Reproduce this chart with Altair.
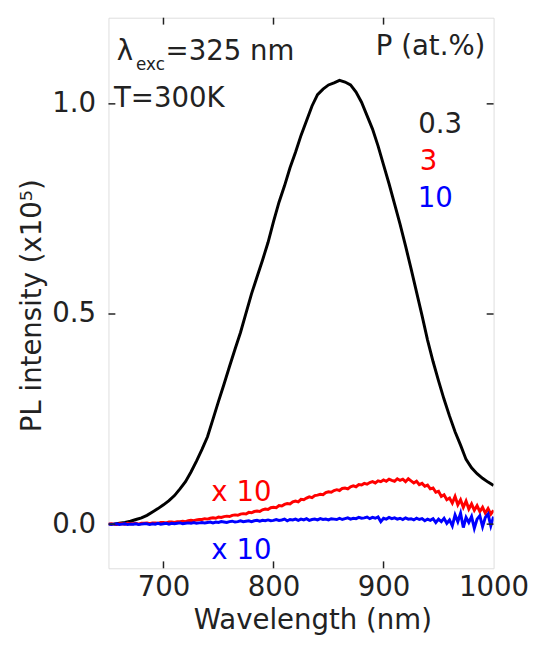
import altair as alt
import pandas as pd

# ---------------- data ----------------
# P = 0.3 at.% (5 nm steps from 655 nm)
wl_black = list(range(655, 1001, 5))
pl_black = [0.000, 0.002, 0.004, 0.007, 0.011, 0.015, 0.021, 0.029, 0.037, 0.046,
            0.056, 0.068, 0.084, 0.101, 0.124, 0.150, 0.178, 0.208, 0.250, 0.292,
            0.333, 0.375, 0.416, 0.456, 0.502, 0.548, 0.588, 0.628, 0.670, 0.720,
            0.766, 0.805, 0.848, 0.885, 0.925, 0.960, 0.995, 1.022, 1.035, 1.045,
            1.050, 1.056, 1.052, 1.045, 1.028, 1.004, 0.972, 0.940, 0.900, 0.855,
            0.810, 0.762, 0.714, 0.662, 0.608, 0.552, 0.496, 0.438, 0.387, 0.341,
            0.297, 0.257, 0.220, 0.188, 0.154, 0.134, 0.120, 0.109, 0.100, 0.092]

# P = 3 at.% (x10), 2.5 nm steps from 650 nm (one row = 25 nm)
pl_red = [0.000, 0.001, 0.000, -0.001, 0.001, 0.001, 0.000, 0.002, 0.001, 0.001,
          0.002, 0.000, 0.002, 0.002, 0.003, 0.001, 0.003, 0.003, 0.002, 0.004,
          0.004, 0.003, 0.005, 0.005, 0.004, 0.006, 0.006, 0.007, 0.006, 0.008,
          0.009, 0.008, 0.010, 0.011, 0.011, 0.013, 0.012, 0.014, 0.015, 0.014,
          0.017, 0.016, 0.018, 0.019, 0.018, 0.021, 0.022, 0.021, 0.024, 0.025,
          0.024, 0.028, 0.027, 0.030, 0.031, 0.030, 0.034, 0.036, 0.035, 0.039,
          0.040, 0.039, 0.044, 0.043, 0.047, 0.049, 0.048, 0.053, 0.055, 0.053,
          0.059, 0.058, 0.062, 0.065, 0.063, 0.068, 0.069, 0.071, 0.070, 0.075,
          0.077, 0.076, 0.080, 0.082, 0.080, 0.085, 0.086, 0.084, 0.089, 0.091,
          0.089, 0.094, 0.093, 0.097, 0.095, 0.099, 0.101, 0.098, 0.103, 0.101,
          0.105, 0.102, 0.107, 0.104, 0.102, 0.108, 0.104, 0.107, 0.101, 0.108,
          0.103, 0.098, 0.102, 0.094, 0.097, 0.090, 0.093, 0.084, 0.086, 0.076,
          0.078, 0.066, 0.070, 0.058, 0.062, 0.050, 0.066, 0.046, 0.058, 0.040,
          0.055, 0.036, 0.048, 0.033, 0.044, 0.030, 0.040, 0.026, 0.037, 0.024,
          0.033]

# P = 10 at.% (x10), 2.5 nm steps from 650 nm (one row = 25 nm)
pl_blue = [0.000, -0.001, 0.000, 0.001, -0.001, 0.000, 0.001, -0.001, 0.000, 0.000,
           0.001, -0.001, 0.000, 0.001, 0.001, -0.001, 0.001, 0.000, 0.002, 0.000,
           0.001, 0.002, 0.000, 0.002, 0.001, 0.002, 0.003, 0.001, 0.002, 0.003,
           0.002, 0.004, 0.002, 0.003, 0.004, 0.003, 0.004, 0.005, 0.003, 0.005,
           0.004, 0.006, 0.005, 0.004, 0.006, 0.007, 0.005, 0.006, 0.008, 0.006,
           0.007, 0.008, 0.006, 0.008, 0.009, 0.007, 0.009, 0.008, 0.010, 0.008,
           0.009, 0.011, 0.009, 0.010, 0.012, 0.008, 0.011, 0.010, 0.012, 0.009,
           0.012, 0.010, 0.013, 0.009, 0.011, 0.012, 0.010, 0.013, 0.011, 0.012,
           0.010, 0.013, 0.012, 0.011, 0.014, 0.011, 0.013, 0.015, 0.012, 0.014,
           0.013, 0.016, 0.014, 0.015, 0.017, 0.013, 0.016, 0.014, 0.017, 0.006,
           0.014, 0.012, 0.016, 0.013, 0.015, 0.012, 0.014, 0.011, 0.015, 0.012,
           0.013, 0.010, 0.014, 0.011, 0.013, 0.008, 0.012, 0.009, 0.013, 0.004,
           0.012, 0.006, 0.014, 0.002, 0.010, -0.004, 0.022, 0.006, 0.026, -0.008,
           0.016, 0.004, 0.018, -0.010, 0.012, 0.020, -0.006, 0.016, 0.024, -0.004,
           0.018]

series_names = ["0.3", "3", "10"]
series_colors = ["#000000", "#ff0000", "#0000ff"]

x_ticks = [700, 800, 900]
y_ticks = [0.0, 0.5, 1.0]

# ---------------- layout ----------------
W, H = 391, 559
X_DOM = [650, 1000]
Y_DOM = [-0.105, 1.205]
FONT = "DejaVu Sans"
FS = 28
TXT = "#222222"

rows = []
for w, v in zip(wl_black, pl_black):
    rows.append({"wl": w, "pl": v, "P": "0.3"})
for i, v in enumerate(pl_red):
    rows.append({"wl": 650 + 2.5 * i, "pl": v, "P": "3"})
for i, v in enumerate(pl_blue):
    rows.append({"wl": 650 + 2.5 * i, "pl": v, "P": "10"})
df = pd.DataFrame(rows)

xs = alt.Scale(domain=X_DOM, nice=False, zero=False)
ys = alt.Scale(domain=Y_DOM, nice=False, zero=False)

lines = alt.Chart(df).mark_line(clip=True).encode(
    x=alt.X("wl:Q", scale=xs,
            axis=alt.Axis(values=[700, 800, 900, 1000], format="d", ticks=False, domain=False,
                          grid=False, labelFontSize=FS, labelFont=FONT, labelColor=TXT,
                          labelPadding=6, labelFlush=False,
                          title="Wavelength (nm)", titleFontSize=FS, titleFont=FONT,
                          titleFontWeight="normal", titleColor=TXT,
                          titleX=207, titleY=53, titleBaseline="middle", titleAlign="center")),
    y=alt.Y("pl:Q", scale=ys,
            axis=alt.Axis(values=y_ticks, format=".1f", ticks=False, domain=False, grid=False,
                          labelFontSize=FS, labelFont=FONT, labelColor=TXT, labelPadding=13,
                          title="PL intensity (x10⁵)", titleFontSize=FS, titleFont=FONT,
                          titleFontWeight="normal", titleColor=TXT, titleAngle=270,
                          titleX=-77, titleY=292, titleBaseline="middle", titleAlign="center")),
    color=alt.Color("P:N", scale=alt.Scale(domain=series_names, range=series_colors), legend=None),
    strokeWidth=alt.StrokeWidth("P:N", scale=alt.Scale(domain=series_names, range=[3, 3, 3]),
                                legend=None),
    detail="P:N",
    order=alt.Order("wl:Q"),
)

# inward ticks
xt = pd.DataFrame({"t": x_ticks})
yt = pd.DataFrame({"t": y_ticks})
TL = 7
tick_style = dict(color="#222222", strokeWidth=1.5)
xt_top = alt.Chart(xt).mark_rule(**tick_style).encode(
    x=alt.X("t:Q", scale=xs), y=alt.value(0), y2=alt.value(TL))
xt_bot = alt.Chart(xt).mark_rule(**tick_style).encode(
    x=alt.X("t:Q", scale=xs), y=alt.value(H - TL), y2=alt.value(H))
yt_left = alt.Chart(yt).mark_rule(**tick_style).encode(
    y=alt.Y("t:Q", scale=ys), x=alt.value(0), x2=alt.value(TL))
yt_right = alt.Chart(yt).mark_rule(**tick_style).encode(
    y=alt.Y("t:Q", scale=ys), x=alt.value(W - TL), x2=alt.value(W))

# annotations
ann = pd.DataFrame({
    "text": ["λ", "exc", "=325 nm", "T=300K", "P (at.%)", "0.3", "3", "10", "x 10", "x 10"],
    "x":    [657.5, 675.1, 701.9, 655.0, 893.0, 931.5, 933.0, 931.0, 743.5, 743.5],
    "y":    [1.105, 1.081, 1.105, 0.993, 1.117, 0.930, 0.843, 0.754, 0.054, -0.082],
    "fs":   [FS, 17, FS, FS, FS, FS, FS, FS, FS, FS],
    "col":  [TXT, TXT, TXT, TXT, TXT, TXT, "#ff0000", "#0000ff", "#ff0000", "#0000ff"],
})
texts = alt.Chart(ann).mark_text(align="left", baseline="alphabetic", font=FONT).encode(
    x=alt.X("x:Q", scale=xs),
    y=alt.Y("y:Q", scale=ys),
    text="text:N",
    size=alt.Size("fs:Q", scale=None, legend=None),
    color=alt.Color("col:N", scale=None, legend=None),
)

chart = alt.layer(lines, xt_top, xt_bot, yt_left, yt_right, texts).properties(
    width=W, height=H,
    autosize=alt.AutoSizeParams(type="none"),
    padding={"left": 102, "top": 5, "right": 38, "bottom": 70},
).configure_view(stroke="#222222", strokeWidth=2).configure(background="white")

chart.save("out.html", embed_options={"renderer": "svg", "actions": False})
